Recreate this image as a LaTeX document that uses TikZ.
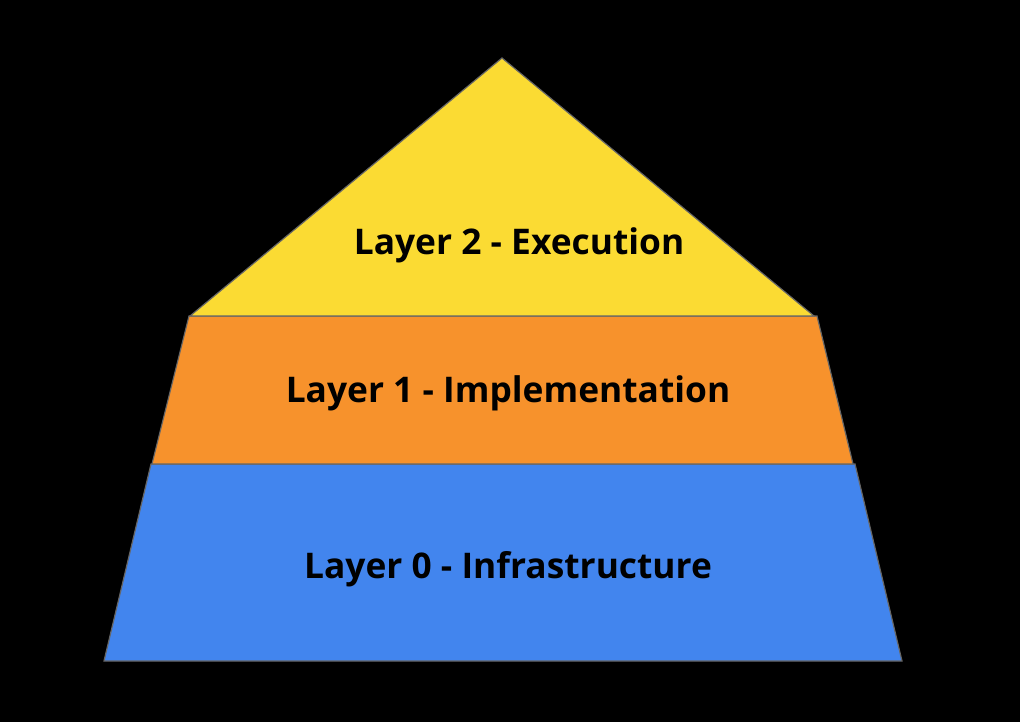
\documentclass[tikz,border=0pt]{standalone}
\usepackage{fontspec}
\setmainfont{Open Sans}
\definecolor{layertop}{HTML}{FBDB33}
\definecolor{layermid}{HTML}{F7922C}
\definecolor{layerbase}{HTML}{4285EE}
\definecolor{edgegray}{HTML}{666666}
\tikzset{
  layer/.style={draw=edgegray,line width=0.9pt,line join=miter},
  label/.style={font=\fontsize{26.5}{32}\selectfont\bfseries,text=black}
}
\begin{document}
\begin{tikzpicture}[x=0.75pt,y=-0.75pt]
  \fill[black] (0,0) rectangle (1020,722);
  \useasboundingbox (0,0) rectangle (1020,722);
  % base layer
  \draw[layer,fill=layerbase] (151,464)--(855,464)--(902,661)--(104,661)--cycle;
  % middle layer
  \draw[layer,fill=layermid] (189,316)--(817,316)--(853,464)--(152,464)--cycle;
  % top
  \draw[layer,fill=layertop] (502,58)--(814,316)--(190,316)--cycle;
  \node[label] (execution) at (519,245) {Layer 2 - Execution};
  \node[label] (implementation) at (508,393) {Layer 1 - Implementation};
  \node[label] (infrastructure) at (508,569) {Layer 0 - Infrastructure};
\end{tikzpicture}
\end{document}
